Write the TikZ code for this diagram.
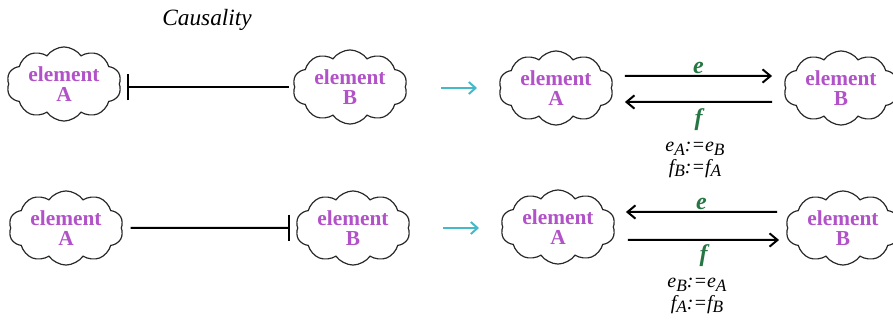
\documentclass[tikz,border=0pt]{standalone}
\usepackage{fontspec}
\setmainfont{LiberationSerif}[Extension=.ttf, UprightFont=*-Regular, BoldFont=*-Bold, ItalicFont=*-Italic, BoldItalicFont=*-BoldItalic]
\usetikzlibrary{shapes.symbols,arrows.meta}
\definecolor{elempurple}{RGB}{178,82,200}
\definecolor{flowgreen}{RGB}{38,118,68}
\definecolor{tcyan}{RGB}{70,185,200}
\definecolor{cloudline}{RGB}{40,40,40}
\newcommand{\lsub}[1]{\raisebox{-0.4ex}{\fontsize{13}{13}\selectfont #1}}
\begin{document}
\begin{tikzpicture}[x=0.75pt,y=-0.75pt,
  elem/.style={cloud, cloud puffs=10, cloud puff arc=110, aspect=1.65,
    draw=cloudline, line width=0.9pt, inner sep=0pt,
    minimum width=86pt, minimum height=52pt, align=center,
    font=\fontsize{16}{15}\selectfont\bfseries, text=elempurple},
  inhib/.style={line width=1.5pt},
  flow/.style={line width=1.5pt, -{Straight Barb[length=6pt,width=10pt]}},
  trans/.style={line width=1.5pt, draw=tcyan, -{Straight Barb[length=5pt,width=9pt]}},
  flowlbl/.style={text=flowgreen, font=\fontsize{18}{18}\selectfont\bfseries\itshape, inner sep=1pt},
  formula/.style={align=center, font=\fontsize{15}{16}\selectfont\itshape, inner sep=0pt},
  title/.style={font=\fontsize{17.5}{17.5}\selectfont\itshape}]
\useasboundingbox (0,0) rectangle (893,320);
\clip (0,0) rectangle (893,320);

\node[title] (ttl) at (207,20) {Causality};

% top row
\node[elem] (A1) at (64,84) {element\\A};
\node[elem] (B1) at (350,87) {element\\B};
\draw[inhib, {Bar[width=20pt]}-, shorten <=5pt, shorten >=3.5pt] (A1.east |- B1.west) -- (B1.west);

\coordinate (t1s) at (441,88);
\coordinate (t1e) at (477,88);
\draw[trans] (t1s) -- (t1e);

\node[elem] (A2) at (556,88) {element\\A};
\node[elem] (B2) at (841,88) {element\\B};
\draw[flow] ([shift={(13,-12)}]A2.east) -- ([shift={(-13,-12)}]B2.west) node[flowlbl, midway, above] (e1) {e};
\draw[flow] ([shift={(-13,14)}]B2.west) -- ([shift={(13,14)}]A2.east) node[flowlbl, midway, below=3pt] (f1) {f};
\node[formula] (q1) at (695,160) {e\lsub{A}:=e\lsub{B}\\f\lsub{B}:=f\lsub{A}};

% bottom row
\node[elem] (A3) at (66,228) {element\\A};
\node[elem] (B3) at (353,228) {element\\B};
\draw[inhib, -{Bar[width=20pt]}, shorten <=6.5pt, shorten >=5pt] (A3.east) -- (B3.west);

\coordinate (t2s) at (443,228);
\coordinate (t2e) at (479,228);
\draw[trans] (t2s) -- (t2e);

\node[elem] (A4) at (558,227) {element\\A};
\node[elem] (B4) at (843,228) {element\\B};
\draw[flow] ([shift={(-10,-16)}]B4.west) -- ([shift={(12,-15)}]A4.east) node[flowlbl, midway, above] (e2) {e};
\draw[flow] ([shift={(14,13)}]A4.east) -- ([shift={(-8,12)}]B4.west) node[flowlbl, midway, below=2pt] (f2) {f};
\node[formula] (q2) at (697,296) {e\lsub{B}:=e\lsub{A}\\f\lsub{A}:=f\lsub{B}};
\end{tikzpicture}
\end{document}
